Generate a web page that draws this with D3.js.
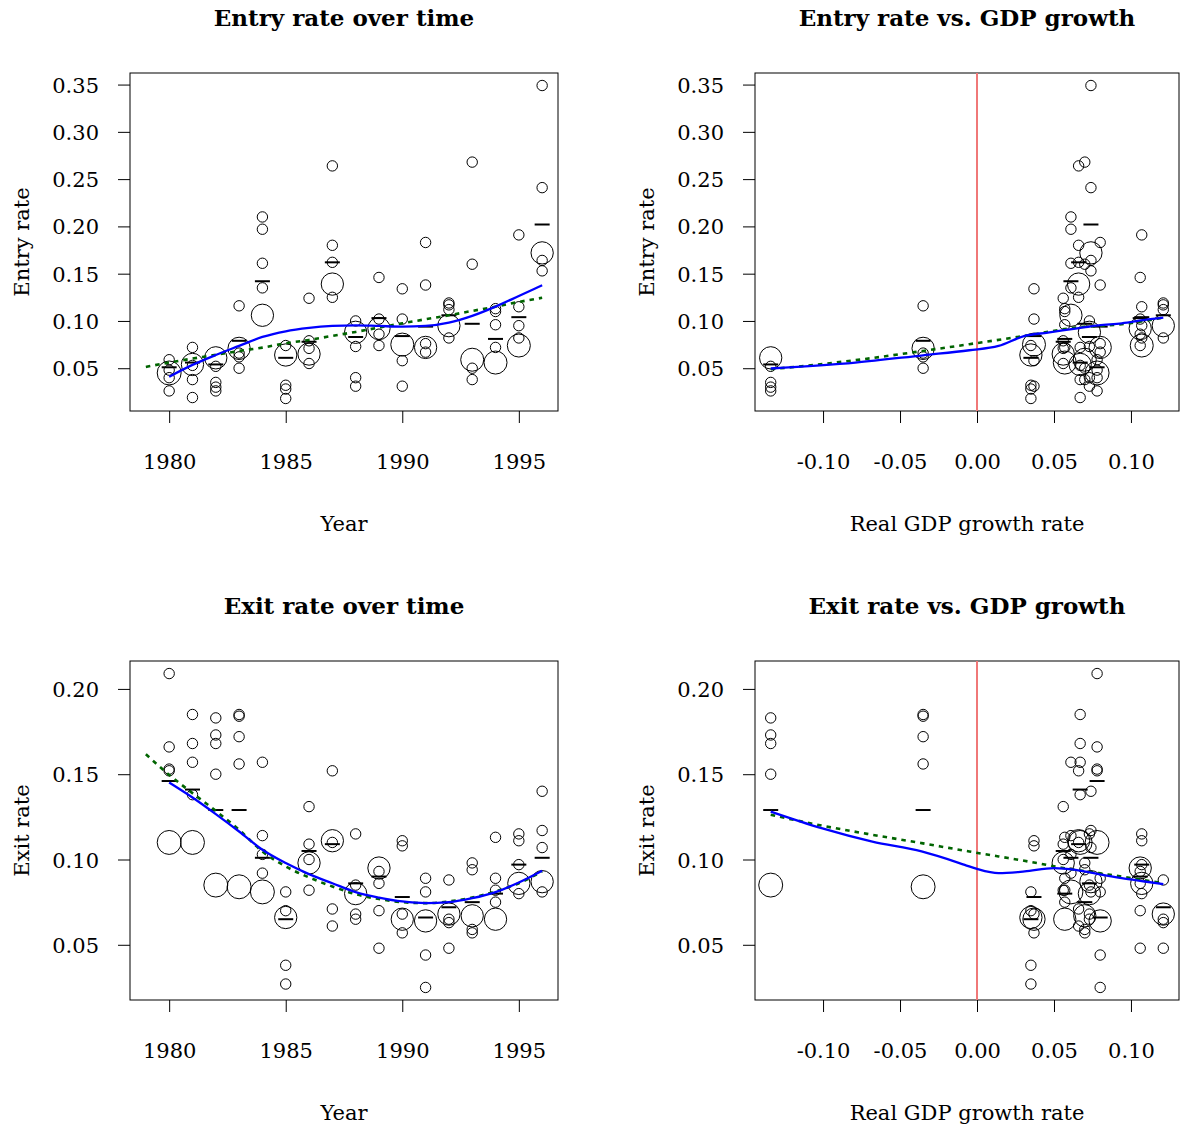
<!DOCTYPE html>
<html>
<head>
<meta charset="utf-8">
<script src="https://cdn.jsdelivr.net/npm/d3@7"></script>
<style>
  body { margin: 0; background: #fff; }
  svg text { font-family: "DejaVu Serif", serif; fill: #000; }
</style>
</head>
<body>
<svg id="chart" width="1180" height="1129"></svg>
<script>
// ---- data ----
const years = [1980, 1981, 1982, 1983, 1984, 1985, 1986, 1987, 1988, 1989, 1990, 1991, 1992, 1993, 1994, 1995, 1996];
const gdpGrowth = [0.078, 0.067, -0.134, -0.035, 0.061, 0.035, 0.056, 0.066, 0.073, 0.106, 0.037, 0.080, 0.121, 0.070, 0.057, 0.107, 0.074];

// [year, rate, weight]
const entryPoints = [
  [1980, 0.059, 1], [1980, 0.048, 1], [1980, 0.040, 1], [1980, 0.026, 1], [1980, 0.045, 5.3],
  [1981, 0.072, 1], [1981, 0.053, 1], [1981, 0.038, 1], [1981, 0.019, 1], [1981, 0.054, 4.6],
  [1982, 0.052, 1], [1982, 0.035, 1], [1982, 0.030, 1], [1982, 0.026, 1], [1982, 0.061, 4.6],
  [1983, 0.116, 1], [1983, 0.066, 1], [1983, 0.062, 1], [1983, 0.050, 1], [1983, 0.071, 4.6],
  [1984, 0.210, 1], [1984, 0.197, 1], [1984, 0.161, 1], [1984, 0.135, 1], [1984, 0.106, 4.6],
  [1985, 0.074, 1], [1985, 0.032, 1], [1985, 0.028, 1], [1985, 0.018, 1], [1985, 0.064, 4.6],
  [1986, 0.124, 1], [1986, 0.079, 1], [1986, 0.071, 1], [1986, 0.055, 1], [1986, 0.065, 4.6],
  [1987, 0.264, 1], [1987, 0.180, 1], [1987, 0.162, 1], [1987, 0.125, 1], [1987, 0.139, 4.6],
  [1988, 0.100, 1], [1988, 0.073, 1], [1988, 0.040, 1], [1988, 0.031, 1], [1988, 0.088, 4.6],
  [1989, 0.146, 1], [1989, 0.102, 1], [1989, 0.086, 1], [1989, 0.074, 1], [1989, 0.092, 4.6],
  [1990, 0.134, 1], [1990, 0.102, 1], [1990, 0.058, 1], [1990, 0.031, 1], [1990, 0.075, 4.9],
  [1991, 0.183, 1], [1991, 0.138, 1], [1991, 0.076, 1], [1991, 0.067, 1], [1991, 0.072, 4.6],
  [1992, 0.119, 1], [1992, 0.117, 1], [1992, 0.112, 1], [1992, 0.082, 1], [1992, 0.095, 4.6],
  [1993, 0.268, 1], [1993, 0.160, 1], [1993, 0.050, 1], [1993, 0.038, 1], [1993, 0.059, 4.9],
  [1994, 0.113, 1], [1994, 0.110, 1], [1994, 0.096, 1], [1994, 0.072, 1], [1994, 0.056, 4.9],
  [1995, 0.191, 1], [1995, 0.115, 1], [1995, 0.095, 1], [1995, 0.082, 1], [1995, 0.074, 4.9],
  [1996, 0.349, 1], [1996, 0.241, 1], [1996, 0.164, 1], [1996, 0.153, 1], [1996, 0.172, 4.6]
];
const exitPoints = [
  [1980, 0.209, 1], [1980, 0.166, 1], [1980, 0.153, 1], [1980, 0.152, 1], [1980, 0.110, 5.3],
  [1981, 0.185, 1], [1981, 0.168, 1], [1981, 0.157, 1], [1981, 0.138, 1], [1981, 0.110, 5.3],
  [1982, 0.183, 1], [1982, 0.173, 1], [1982, 0.168, 1], [1982, 0.150, 1], [1982, 0.085, 5.3],
  [1983, 0.185, 1], [1983, 0.184, 1], [1983, 0.172, 1], [1983, 0.156, 1], [1983, 0.084, 5.3],
  [1984, 0.157, 1], [1984, 0.114, 1], [1984, 0.103, 1], [1984, 0.092, 1], [1984, 0.081, 5.3],
  [1985, 0.081, 1], [1985, 0.070, 1], [1985, 0.038, 1], [1985, 0.027, 1], [1985, 0.066, 4.6],
  [1986, 0.131, 1], [1986, 0.109, 1], [1986, 0.100, 1], [1986, 0.082, 1], [1986, 0.098, 4.6],
  [1987, 0.152, 1], [1987, 0.110, 1], [1987, 0.071, 1], [1987, 0.061, 1], [1987, 0.111, 4.6],
  [1988, 0.115, 1], [1988, 0.085, 1], [1988, 0.068, 1], [1988, 0.065, 1], [1988, 0.080, 4.6],
  [1989, 0.093, 1], [1989, 0.086, 1], [1989, 0.070, 1], [1989, 0.048, 1], [1989, 0.095, 4.6],
  [1990, 0.111, 1], [1990, 0.108, 1], [1990, 0.068, 1], [1990, 0.057, 1], [1990, 0.065, 4.6],
  [1991, 0.089, 1], [1991, 0.081, 1], [1991, 0.044, 1], [1991, 0.025, 1], [1991, 0.064, 4.6],
  [1992, 0.088, 1], [1992, 0.065, 1], [1992, 0.063, 1], [1992, 0.048, 1], [1992, 0.068, 4.6],
  [1993, 0.098, 1], [1993, 0.094, 1], [1993, 0.059, 1], [1993, 0.057, 1], [1993, 0.067, 4.6],
  [1994, 0.113, 1], [1994, 0.089, 1], [1994, 0.082, 1], [1994, 0.075, 1], [1994, 0.065, 4.6],
  [1995, 0.115, 1], [1995, 0.111, 1], [1995, 0.097, 1], [1995, 0.080, 1], [1995, 0.086, 4.6],
  [1996, 0.140, 1], [1996, 0.117, 1], [1996, 0.107, 1], [1996, 0.081, 1], [1996, 0.087, 4.6]
];

// yearly averages (the short dashes)
const entryMean = [0.051, 0.056, 0.054, 0.079, 0.142, 0.061, 0.078, 0.162, 0.083, 0.103, 0.084, 0.094, 0.106, 0.097, 0.081, 0.104, 0.202];
const exitMean  = [0.146, 0.141, 0.129, 0.129, 0.101, 0.065, 0.105, 0.109, 0.086, 0.090, 0.078, 0.066, 0.072, 0.075, 0.080, 0.097, 0.101];

// smoother (blue) over 1980-1996, trend (green dashed) over 1979-1996
const trendYears = [1979, 1980, 1981, 1982, 1983, 1984, 1985, 1986, 1987, 1988, 1989, 1990, 1991, 1992, 1993, 1994, 1995, 1996];
const entrySmooth = [0.041, 0.0535, 0.064, 0.0736, 0.0831, 0.0891, 0.0926, 0.0947, 0.0954, 0.0947, 0.094, 0.0947, 0.0982, 0.1053, 0.1151, 0.1264, 0.1377];
const entryTrend  = [0.0514, 0.056, 0.0602, 0.0641, 0.0683, 0.0718, 0.0764, 0.0799, 0.0842, 0.0884, 0.093, 0.0975, 0.1018, 0.106, 0.1106, 0.1151, 0.1201, 0.1245];
const exitSmooth  = [0.1451, 0.1363, 0.1266, 0.1164, 0.1057, 0.0979, 0.0914, 0.0861, 0.0809, 0.0777, 0.0754, 0.0744, 0.075, 0.0773, 0.0809, 0.0865, 0.0934];
const exitTrend   = [0.1617, 0.1496, 0.1389, 0.1285, 0.1174, 0.1047, 0.0959, 0.0895, 0.0842, 0.0797, 0.0768, 0.075, 0.0744, 0.0754, 0.0777, 0.0813, 0.0861, 0.093];

// same curves against GDP growth: [gdp, rate]
const entryGdpSmooth = [[-0.134, 0.0497], [-0.079, 0.056], [-0.035, 0.0637], [-0.005, 0.069], [0.014, 0.0736], [0.031, 0.0842], [0.046, 0.0877], [0.064, 0.0919], [0.079, 0.0954], [0.094, 0.0975], [0.109, 0.1011], [0.121, 0.1035]];
const entryGdpTrend  = [[-0.134, 0.0489], [-0.079, 0.0585], [-0.035, 0.0683], [-0.005, 0.0754], [0.031, 0.0842], [0.064, 0.093], [0.094, 0.0965], [0.121, 0.1035]];
const exitGdpSmooth  = [[-0.134, 0.1281], [-0.101, 0.1184], [-0.068, 0.1105], [-0.036, 0.1047], [-0.008, 0.0969], [0.0, 0.0945], [0.014, 0.092], [0.031, 0.093], [0.05, 0.0949], [0.064, 0.0939], [0.079, 0.0914], [0.094, 0.0891], [0.109, 0.0871], [0.121, 0.0855]];
const exitGdpTrend   = [[-0.134, 0.1262], [-0.101, 0.1199], [-0.068, 0.1145], [-0.036, 0.1096], [-0.005, 0.1047], [0.014, 0.1018], [0.036, 0.0984], [0.057, 0.0949], [0.079, 0.092], [0.100, 0.0891], [0.121, 0.0861]];

const yearTicks = [1980, 1985, 1990, 1995];
const gdpTicks = [-0.10, -0.05, 0.00, 0.05, 0.10];
const entryTicks = [0.05, 0.10, 0.15, 0.20, 0.25, 0.30, 0.35];
const exitTicks = [0.05, 0.10, 0.15, 0.20];

// ---- drawing ----
const svg = d3.select("#chart");
const rScale = d3.scaleSqrt().domain([0, 1]).range([0, 5.2]);
const gdpByYear = new Map(years.map((y, i) => [y, gdpGrowth[i]]));
// R-style 4% padding of the data range
const pad = ([a, b]) => { const d = (b - a) * 0.04; return [a - d, b + d]; };
// R prints a plain hyphen for negatives
const fmt2 = v => d3.format(".2f")(v).replace("\u2212", "-");

function drawPanel(cfg) {
  const [x0, x1, y0, y1] = cfg.box;
  const g = svg.append("g");
  const x = d3.scaleLinear().domain(cfg.xDomain).range([x0, x1]);
  const y = d3.scaleLinear().domain(cfg.yDomain).range([y1, y0]);

  // axes
  const ax = g.append("g").attr("transform", `translate(0,${y1})`)
    .call(d3.axisBottom(x).tickValues(cfg.xTicks).tickFormat(cfg.xFmt).tickSize(12).tickSizeOuter(0));
  const ay = g.append("g").attr("transform", `translate(${x0},0)`)
    .call(d3.axisLeft(y).tickValues(cfg.yTicks).tickFormat(fmt2).tickSize(12).tickSizeOuter(0).tickPadding(19));
  [ax, ay].forEach(a => {
    a.attr("font-family", null).attr("font-size", 21);
    a.select(".domain").remove();
    a.selectAll(".tick line").attr("stroke", "#000").attr("stroke-width", 1);
  });
  ax.selectAll(".tick text").attr("y", 43).attr("dy", "0.71em");
  ay.selectAll(".tick text").attr("dy", "0.36em");

  // box
  g.append("rect").attr("x", x0).attr("y", y0).attr("width", x1 - x0).attr("height", y1 - y0)
    .attr("fill", "none").attr("stroke", "#000").attr("stroke-width", 1);

  if (cfg.zeroLine) {
    g.append("line").attr("x1", x(0)).attr("x2", x(0)).attr("y1", y0).attr("y2", y1)
      .attr("stroke", "#f07878").attr("stroke-width", 2);
  }

  // observations
  g.append("g").selectAll("circle").data(cfg.points).join("circle")
    .attr("cx", d => x(d.x)).attr("cy", d => y(d.y)).attr("r", d => rScale(d.w))
    .attr("fill", "none").attr("stroke", "#000").attr("stroke-width", 1);

  // yearly averages
  g.append("g").selectAll("line").data(cfg.means).join("line")
    .attr("x1", d => x(d.x) - 7.5).attr("x2", d => x(d.x) + 7.5)
    .attr("y1", d => y(d.y)).attr("y2", d => y(d.y))
    .attr("stroke", "#000").attr("stroke-width", 2);

  const line = d3.line().x(d => x(d[0])).y(d => y(d[1])).curve(d3.curveMonotoneX);
  g.append("path").datum(cfg.trend).attr("d", line)
    .attr("fill", "none").attr("stroke", "#006400").attr("stroke-width", 2.6).attr("stroke-dasharray", "4.5,5");
  g.append("path").datum(cfg.smooth).attr("d", line)
    .attr("fill", "none").attr("stroke", "#0000ff").attr("stroke-width", 2.3);

  // labels
  const cx = (x0 + x1) / 2, cy = (y0 + y1) / 2;
  g.append("text").attr("x", cx).attr("y", y0 - 47).attr("text-anchor", "middle")
    .attr("font-size", 23).attr("font-weight", "bold").text(cfg.title);
  g.append("text").attr("x", cx).attr("y", y1 + 120).attr("text-anchor", "middle")
    .attr("font-size", 21).text(cfg.xLabel);
  g.append("text").attr("transform", `translate(${x0 - 101},${cy}) rotate(-90)`).attr("text-anchor", "middle")
    .attr("font-size", 21).text(cfg.yLabel);
}

const byYear = pts => pts.map(p => ({ x: p[0], y: p[1], w: p[2] }));
const byGdp = pts => pts.map(p => ({ x: gdpByYear.get(p[0]), y: p[1], w: p[2] }));
const yearDomain = pad(d3.extent(trendYears));
const gdpDomain = pad(d3.extent(gdpGrowth));
const entryDomain = pad(d3.extent(entryPoints, p => p[1]));
const exitDomain = pad(d3.extent(exitPoints, p => p[1]));

drawPanel({
  box: [130, 558, 73, 411], xDomain: yearDomain, yDomain: entryDomain,
  xTicks: yearTicks, xFmt: d3.format("d"), yTicks: entryTicks,
  title: "Entry rate over time", xLabel: "Year", yLabel: "Entry rate",
  points: byYear(entryPoints), means: years.map((yr, i) => ({ x: yr, y: entryMean[i] })),
  smooth: years.map((yr, i) => [yr, entrySmooth[i]]), trend: trendYears.map((yr, i) => [yr, entryTrend[i]])
});
drawPanel({
  box: [755, 1179, 73, 411], xDomain: gdpDomain, yDomain: entryDomain,
  xTicks: gdpTicks, xFmt: fmt2, yTicks: entryTicks, zeroLine: true,
  title: "Entry rate vs. GDP growth", xLabel: "Real GDP growth rate", yLabel: "Entry rate",
  points: byGdp(entryPoints), means: years.map((yr, i) => ({ x: gdpGrowth[i], y: entryMean[i] })),
  smooth: entryGdpSmooth, trend: entryGdpTrend
});
drawPanel({
  box: [130, 558, 661, 1000], xDomain: yearDomain, yDomain: exitDomain,
  xTicks: yearTicks, xFmt: d3.format("d"), yTicks: exitTicks,
  title: "Exit rate over time", xLabel: "Year", yLabel: "Exit rate",
  points: byYear(exitPoints), means: years.map((yr, i) => ({ x: yr, y: exitMean[i] })),
  smooth: years.map((yr, i) => [yr, exitSmooth[i]]), trend: trendYears.map((yr, i) => [yr, exitTrend[i]])
});
drawPanel({
  box: [755, 1179, 661, 1000], xDomain: gdpDomain, yDomain: exitDomain,
  xTicks: gdpTicks, xFmt: fmt2, yTicks: exitTicks, zeroLine: true,
  title: "Exit rate vs. GDP growth", xLabel: "Real GDP growth rate", yLabel: "Exit rate",
  points: byGdp(exitPoints), means: years.map((yr, i) => ({ x: gdpGrowth[i], y: exitMean[i] })),
  smooth: exitGdpSmooth, trend: exitGdpTrend
});
</script>
</body>
</html>
